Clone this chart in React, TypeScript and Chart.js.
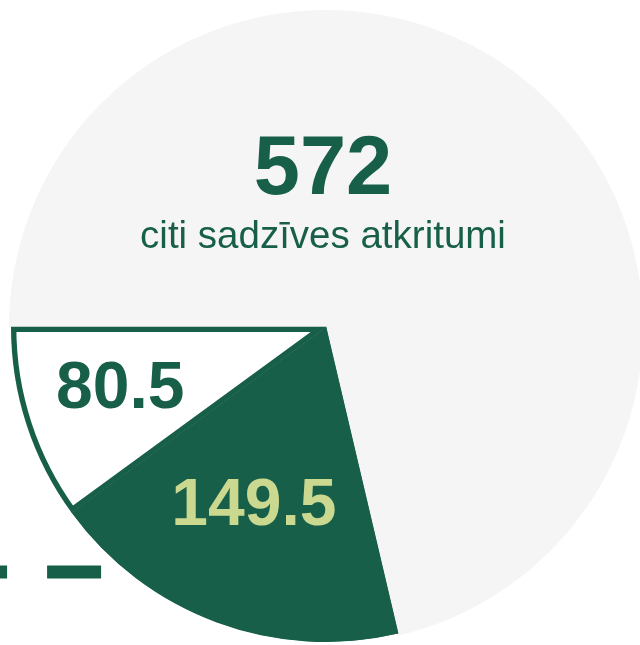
import React, { useEffect, useRef } from "react";
import { Chart, registerables } from "chart.js";

Chart.register(...registerables);

// ---- data ----
const categories = ["citi sadzīves atkritumi", "", ""];
const values = [572, 149.5, 80.5];
const valueLabels = ["572", "149.5", "80.5"];
const sliceColors = ["#f5f5f5", "#185f4a", "#ffffff"];
const valueTextColors = ["#185f4a", "#cbd88f", "#185f4a"];

const GREEN = "#185f4a";
const FONT = "'Liberation Sans', Arial, Helvetica, sans-serif";

const labelPlugin = {
  id: "sliceLabels",
  afterDatasetsDraw(chart: any) {
    const ctx = chart.ctx;
    const meta = chart.getDatasetMeta(0);
    ctx.save();
    ctx.textAlign = "center";
    ctx.textBaseline = "alphabetic";
    meta.data.forEach((arc: any, i: number) => {
      const p = arc.getProps(["x", "y", "startAngle", "endAngle", "outerRadius"], true);
      const r = p.outerRadius;
      if (i === 0) {
        // big number above centre, category below it
        ctx.fillStyle = valueTextColors[i];
        ctx.font = `bold 83px ${FONT}`;
        ctx.fillText(valueLabels[i], p.x - 3, p.y - 0.422 * r);
        ctx.font = `38.5px ${FONT}`;
        ctx.fillText(categories[i], p.x - 3, p.y - 0.251 * r);
      } else {
        const shift = i === 1 ? 0.037 : 0.044;
        const mid = (p.startAngle + p.endAngle) / 2 + shift;
        const frac = i === 1 ? 0.6 : 0.678;
        const fs = 66;
        const lx = p.x + Math.cos(mid) * r * frac;
        const ly = p.y + Math.sin(mid) * r * frac;
        ctx.fillStyle = valueTextColors[i];
        ctx.font = `bold ${fs}px ${FONT}`;
        ctx.fillText(valueLabels[i], lx, ly + 0.358 * fs);
      }
    });
    // dashed leader line at lower left
    const a = meta.data[2].getProps(["x", "y", "outerRadius"], true);
    ctx.beginPath();
    ctx.strokeStyle = GREEN;
    ctx.lineWidth = 13;
    ctx.lineCap = "butt";
    ctx.setLineDash([54, 40]);
    const y = a.y + 0.778 * a.outerRadius;
    ctx.moveTo(a.x - 0.714 * a.outerRadius, y);
    ctx.lineTo(-200, y);
    ctx.stroke();
    ctx.restore();
  },
};

export default function App() {
  const ref = useRef<HTMLCanvasElement>(null);
  useEffect(() => {
    if (!ref.current) return;
    const chart = new Chart(ref.current, {
      type: "pie",
      data: {
        labels: categories,
        datasets: [
          {
            data: values,
            backgroundColor: sliceColors,
            borderColor: ["#f5f5f5", GREEN, GREEN],
            borderWidth: [4, 5, 5],
            borderAlign: ["center", "inner", "inner"] as any,
            hoverBorderWidth: 0,
            hoverOffset: 0,
          },
        ],
      },
      options: {
        responsive: false,
        animation: false,
        rotation: 270,
        layout: { padding: { left: 9, top: 10, right: 17, bottom: 16 } },
        plugins: {
          legend: { display: false },
          tooltip: { enabled: false },
          title: { display: false },
        },
        events: [],
      },
      plugins: [labelPlugin],
    });
    return () => chart.destroy();
  }, []);
  return (
    <div
      style={{
        position: "fixed",
        left: 0,
        top: 0,
        width: 640,
        height: 645,
        overflow: "hidden",
        background: "#ffffff",
      }}
    >
      <canvas ref={ref} width={660} height={660} style={{ display: "block" }} />
    </div>
  );
}
